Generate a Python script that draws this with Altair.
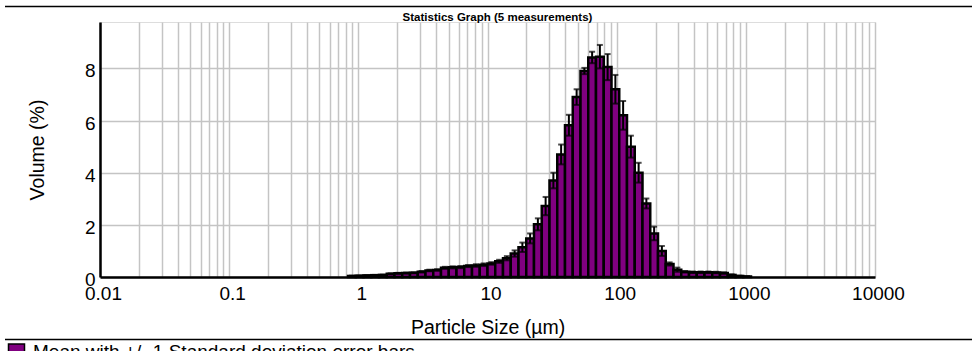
import altair as alt
import pandas as pd
import numpy as np

FONT = "Liberation Sans"

# Mastersizer size-class edges (µm) covering the non-zero part of the distribution
edges = [0.832, 0.955, 1.096, 1.259, 1.445, 1.660, 1.905, 2.188, 2.512, 2.884,
         3.311, 3.802, 4.365, 5.012, 5.754, 6.607, 7.586, 8.710, 10.000, 11.482,
         13.183, 15.136, 17.378, 19.953, 22.909, 26.303, 30.200, 34.674, 39.811, 45.709,
         52.481, 60.256, 69.183, 79.433, 91.201, 104.713, 120.226, 138.038, 158.489, 181.970,
         208.930, 239.883, 275.423, 316.228, 363.078, 416.869, 478.630, 549.541, 630.957, 724.436,
         831.764, 954.993, 1096.478]

# Mean volume (%) per class
volume = [0.04, 0.05, 0.06, 0.07, 0.08, 0.12, 0.14, 0.15, 0.16, 0.20,
          0.25, 0.27, 0.35, 0.37, 0.38, 0.42, 0.44, 0.47, 0.52, 0.60,
          0.72, 0.90, 1.14, 1.48, 2.02, 2.72, 3.70, 4.70, 5.82, 6.90,
          7.90, 8.42, 8.45, 8.05, 7.20, 6.20, 5.00, 4.00, 2.82, 1.67,
          1.00, 0.50, 0.28, 0.20, 0.18, 0.18, 0.18, 0.17, 0.15, 0.08,
          0.04, 0.02]

# Standard deviation per class
std = [0.01, 0.01, 0.01, 0.01, 0.01, 0.02, 0.02, 0.02, 0.02, 0.03,
       0.03, 0.03, 0.04, 0.04, 0.04, 0.04, 0.05, 0.05, 0.05, 0.06,
       0.08, 0.12, 0.18, 0.19, 0.23, 0.35, 0.30, 0.38, 0.40, 0.30,
       0.12, 0.22, 0.45, 0.50, 0.55, 0.55, 0.42, 0.38, 0.19, 0.26,
       0.19, 0.06, 0.08, 0.03, 0.03, 0.03, 0.03, 0.03, 0.03, 0.02,
       0.01, 0.01]

x_ticks = [0.01, 0.1, 1, 10, 100, 1000, 10000]
y_ticks = [0, 2, 4, 6, 8]
multipliers = [1, 2, 3, 4, 5, 6, 7, 8, 9]
series_name = "Mean with +/- 1 Standard deviation error bars"

lo = np.array(edges[:-1])
hi = np.array(edges[1:])
df = pd.DataFrame({
    "lo": lo,
    "hi": hi,
    "mid": np.sqrt(lo * hi),
    "v": volume,
    "base": 0.0,
    "upper": np.array(volume) + np.array(std),
    "lower": np.array(volume) - np.array(std),
    "series": series_name,
})

grid_vals = [t * m for t in x_ticks[:-1] for m in multipliers] + [x_ticks[-1]]
major = "[" + ",".join(repr(t) for t in x_ticks) + "]"

xs = alt.Scale(type="log", domain=[0.01, 10000], nice=False)
ys = alt.Scale(domain=[0, 9.78], nice=False, zero=True)

LBL = 19
TTL = 19.5

x_axis = alt.Axis(
    values=grid_vals,
    labelExpr=f"indexof({major}, datum.value) >= 0 ? format(datum.value, '~g') : ''",
    grid=True, gridColor="#c4c4c4", gridWidth=1.5,
    ticks=False, tickSize=0,
    labelFontSize=LBL, labelFont=FONT, labelColor="black", labelPadding=7, labelOffset=3,
    labelOverlap=False, labelFlush=False,
    domainColor="black", domainWidth=2.5,
    title="Particle Size (µm)", titleFontSize=TTL, titleFont=FONT, titleFontWeight="normal",
    titleColor="black", titleX=387.5, titleY=50, titleAlign="center", titleBaseline="middle",
)
y_axis = alt.Axis(
    values=y_ticks,
    grid=True, gridColor="#c4c4c4", gridWidth=1.5,
    ticks=False, tickSize=0,
    labelFontSize=LBL, labelFont=FONT, labelColor="black", labelPadding=5, labelOffset=2.5,
    domainColor="black", domainWidth=2.5,
    title="Volume (%)", titleFontSize=TTL, titleFont=FONT, titleFontWeight="normal",
    titleColor="black", titleAngle=270, titleX=-63, titleY=127.5,
    titleAlign="center", titleBaseline="middle",
)

base = alt.Chart(df)

bars = base.mark_rect(stroke="black", strokeWidth=2.5).encode(
    x=alt.X("lo:Q", scale=xs, axis=x_axis),
    x2="hi:Q",
    y=alt.Y("v:Q", scale=ys, axis=y_axis),
    y2="base:Q",
    color=alt.Color(
        "series:N",
        scale=alt.Scale(range=["#800080"]),
        legend=alt.Legend(
            title=None, orient="none", legendX=-93, legendY=320.5,
            symbolType="square", symbolSize=256, symbolStrokeColor="black",
            symbolStrokeWidth=1.5, symbolOpacity=1,
            labelFontSize=LBL, labelFont=FONT, labelColor="black",
            labelOffset=7, labelLimit=1000, padding=0,
        ),
    ),
)

err_rule = base.mark_rule(color="black", strokeWidth=2).encode(
    x=alt.X("mid:Q", scale=xs),
    y=alt.Y("lower:Q", scale=ys),
    y2="upper:Q",
)
cap_top = base.mark_tick(color="black", orient="horizontal", size=6, thickness=2).encode(
    x=alt.X("mid:Q", scale=xs),
    y=alt.Y("upper:Q", scale=ys),
)
cap_bot = base.mark_tick(color="black", orient="horizontal", size=6, thickness=2).encode(
    x=alt.X("mid:Q", scale=xs),
    y=alt.Y("lower:Q", scale=ys),
)

dummy = alt.Chart(pd.DataFrame({"a": [0]}))
top_line = dummy.mark_rule(color="black", strokeWidth=1.5).encode(
    x=alt.value(-95), x2=alt.value(872), y=alt.value(-15.5)
)
bottom_line = dummy.mark_rule(color="black", strokeWidth=1.5).encode(
    x=alt.value(-95), x2=alt.value(872), y=alt.value(317.5)
)

chart = alt.layer(bars, err_rule, cap_top, cap_bot, top_line, bottom_line).properties(
    width=775,
    height=255,
    autosize=alt.AutoSizeParams(type="none"),
    padding={"left": 100, "top": 22, "right": 97, "bottom": 74},
    title=alt.TitleParams(
        "Statistics Graph (5 measurements)", fontSize=11.5, fontWeight="bold",
        font=FONT, color="black", anchor="middle", offset=1, baseline="alphabetic",
        dy=28, dx=10,
    ),
    background="white",
).configure_view(stroke="black", strokeWidth=1.5).configure(font=FONT)

chart.save("out.html", embed_options={"renderer": "svg", "actions": False})
